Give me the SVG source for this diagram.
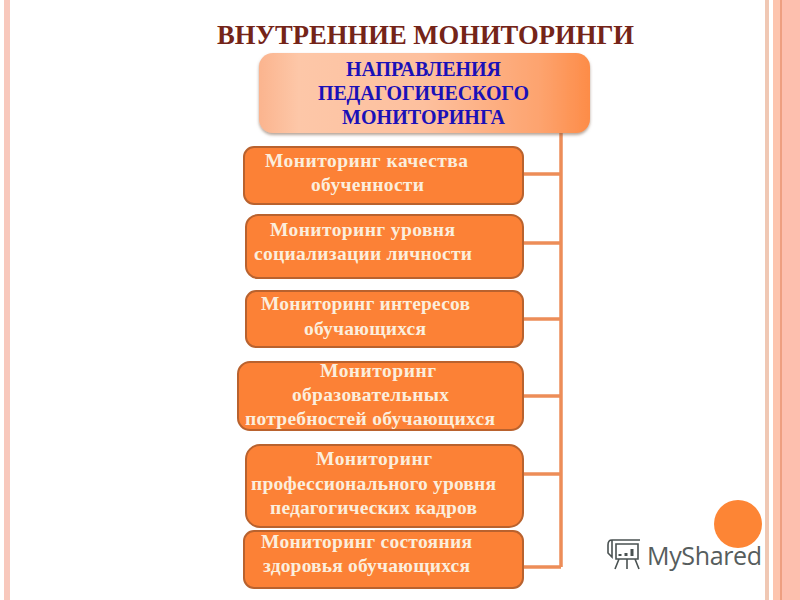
<svg xmlns="http://www.w3.org/2000/svg" width="800" height="600" viewBox="0 0 800 600">
<defs>
<linearGradient id="hg" x1="0" y1="0" x2="1" y2="0"><stop offset="0" stop-color="#fbb48e"/><stop offset="0.12" stop-color="#fdc7a8"/><stop offset="0.5" stop-color="#fdc09e"/><stop offset="0.85" stop-color="#fda36e"/><stop offset="1" stop-color="#fd8c48"/></linearGradient>
<filter id="sh" x="-5%" y="-10%" width="110%" height="125%"><feDropShadow dx="0" dy="2" stdDeviation="1.500" flood-color="#7a5a45" flood-opacity="0.55"/></filter>
</defs>
<style>
.box{fill:#fc8136;stroke:#b9622e;stroke-width:2}
.con{fill:none;stroke:#ed8d58;stroke-width:3.500}
text{font-family:"Liberation Serif","Times New Roman",serif;font-weight:bold}
.lb{fill:#fbeedd;font-size:19.500px}
.hd{fill:#1a10b8;font-size:20px}
</style>
<rect width="800" height="600" fill="#fff"/>
<g id="border">
<rect x="4" y="0" width="6" height="600" fill="#f8c8bc"/>
<rect x="765" y="0" width="4" height="600" fill="#f0c8b4"/>
<rect x="773" y="0" width="7" height="600" fill="#fdc4ae"/>
<rect x="780" y="0" width="2" height="600" fill="#ee9f80"/>
<rect x="782" y="0" width="18" height="600" fill="#fdbfae"/>
</g>
<text id="title" x="217" y="44" font-size="26.600" fill="#742418" textLength="417">ВНУТРЕННИЕ МОНИТОРИНГИ</text>
<g id="connectors">
<path class="con" d="M561 133V567"/>
<path class="con" d="M523 174H561M523 243H561M523 319H561M523 396H561M523 474H561M523 567H561"/>
</g>
<g id="head"><rect x="259" y="53" width="331" height="80" rx="14" fill="url(#hg)" filter="url(#sh)"/>
<text class="hd" x="346" y="76" textLength="155">НАПРАВЛЕНИЯ</text><text class="hd" x="318" y="100" textLength="211">ПЕДАГОГИЧЕСКОГО</text><text class="hd" x="342" y="124" textLength="163">МОНИТОРИНГА</text></g>
<g id="n1"><rect class="box" x="244" y="147" width="279" height="57" rx="10"/>
<text class="lb" x="265" y="167" textLength="203">Мониторинг  качества</text><text class="lb" x="311" y="191" textLength="113">обученности</text></g>
<g id="n2"><rect class="box" x="246" y="215" width="277" height="63" rx="12"/>
<text class="lb" x="270" y="236" textLength="185">Мониторинг  уровня</text><text class="lb" x="254" y="260" textLength="218">социализации личности</text></g>
<g id="n3"><rect class="box" x="246" y="291" width="277" height="56" rx="10"/>
<text class="lb" x="261" y="310" textLength="209">Мониторинг интересов</text><text class="lb" x="304" y="335" textLength="122">обучающихся</text></g>
<g id="n4"><rect class="box" x="238" y="362" width="285" height="68" rx="12"/>
<text class="lb" x="320" y="377" textLength="116">Мониторинг</text><text class="lb" x="292" y="401" textLength="157">образовательных</text><text class="lb" x="245" y="425" textLength="250">потребностей обучающихся</text></g>
<g id="n5"><rect class="box" x="246" y="445" width="277" height="82" rx="14"/>
<text class="lb" x="316" y="465" textLength="116">Мониторинг</text><text class="lb" x="251" y="490" textLength="245">профессионального уровня</text><text class="lb" x="270" y="514" textLength="207">педагогических кадров</text></g>
<g id="n6"><rect class="box" x="244" y="531" width="279" height="57" rx="10"/>
<text class="lb" x="261" y="548" textLength="211">Мониторинг состояния</text><text class="lb" x="263" y="572" textLength="207">здоровья обучающихся</text></g>
<circle id="dot" cx="738" cy="524" r="24" fill="#fd8535"/>
<g id="logo" fill="none" stroke="#4a5252" stroke-width="1.600">
<path d="M612 540h28M616 544h22v15h-22zM612 540c-4 0-4 3-4 5v8l4 4v-17M619 559l-4 10M627 559v10M635 559l4 10"/>
<path d="M620 556v-2M626 556v-3M632 556v-7" stroke-width="3"/>
</g>
<text x="647" y="565" font-size="25" fill="#565d5d" style="font-family:'Open Sans','Liberation Sans',sans-serif;font-weight:400" textLength="115">MyShared</text>
</svg>
